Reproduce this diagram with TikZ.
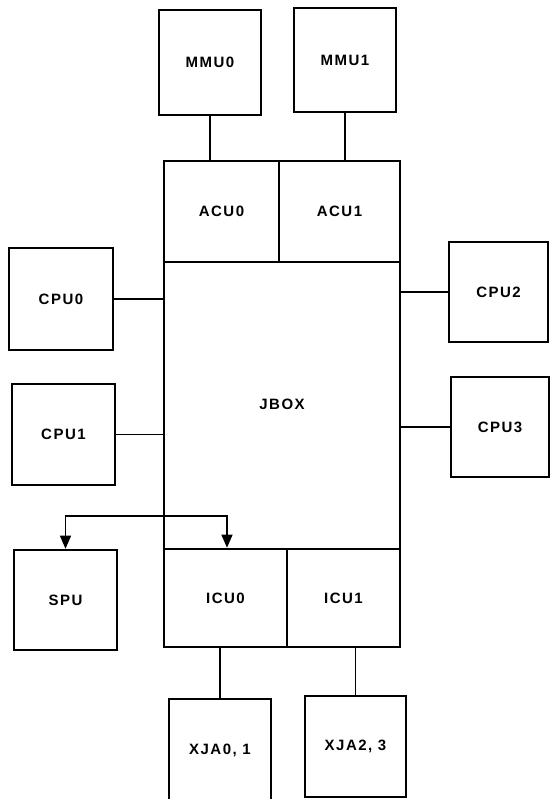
\documentclass[tikz,border=0pt]{standalone}
\usepackage{fontspec}
\setmainfont{Liberation Sans}[LetterSpace=10]
\usetikzlibrary{arrows.meta}
\begin{document}
\begin{tikzpicture}[x=1pt,y=-1pt,
  unitbox/.style={draw,line width=2.6pt,rectangle,inner sep=0pt,font=\fontsize{15}{17}\selectfont\bfseries},
  wire/.style={line width=1.4pt},
  arr/.style={line width=1.4pt,{Triangle[width=11pt,length=13pt]}-{Triangle[width=11pt,length=13pt]}}]
\useasboundingbox (0,0) rectangle (550,799);
% main box
\node[unitbox,minimum width=236pt,minimum height=486pt] (jbox) at (282,404) {JBOX};
\node[unitbox,minimum width=115pt,minimum height=101pt] (acu0) at (221.5,211.5) {ACU0};
\node[unitbox,minimum width=121pt,minimum height=101pt] (acu1) at (339.5,211.5) {ACU1};
\node[unitbox,minimum width=123pt,minimum height=98pt] (icu0) at (225.5,598) {ICU0};
\node[unitbox,minimum width=113pt,minimum height=98pt] (icu1) at (343.5,598) {ICU1};
% outer units
\node[unitbox,minimum width=102pt,minimum height=105pt] (mmu0) at (210,62.5) {MMU0};
\node[unitbox,minimum width=102pt,minimum height=104pt] (mmu1) at (345,60) {MMU1};
\node[unitbox,minimum width=104pt,minimum height=102pt] (cpu0) at (61,299) {CPU0};
\node[unitbox,minimum width=103pt,minimum height=101pt] (cpu1) at (63.5,434.5) {CPU1};
\node[unitbox,minimum width=99pt,minimum height=100pt] (cpu2) at (498.5,292) {CPU2};
\node[unitbox,minimum width=98pt,minimum height=100pt] (cpu3) at (500,427) {CPU3};
\node[unitbox,minimum width=103pt,minimum height=100pt] (spu) at (65.5,600) {SPU};
\node[unitbox,minimum width=102pt,minimum height=102pt] (xja0) at (220,750) {XJA0, 1};
\node[unitbox,minimum width=101pt,minimum height=101pt] (xja2) at (355.5,746.5) {XJA2, 3};
% connectors
\draw[wire] (mmu0.south) -- (mmu0.south |- acu0.north);
\draw[wire] (mmu1.south) -- (mmu1.south |- acu1.north);
\draw[wire] (cpu0.east) -- (cpu0.east -| jbox.west);
\draw[wire] (cpu1.east) -- (cpu1.east -| jbox.west);
\draw[wire] (cpu2.west) -- (cpu2.west -| jbox.east);
\draw[wire] (cpu3.west) -- (cpu3.west -| jbox.east);
\draw[wire] (xja0.north) -- (xja0.north |- icu0.south);
\draw[wire] (xja2.north) -- (xja2.north |- icu1.south);
\coordinate (busl) at (65.5,516);
\draw[arr] (spu.north) -- (busl) -| ([xshift=1.5pt]icu0.north);
\end{tikzpicture}
\end{document}
